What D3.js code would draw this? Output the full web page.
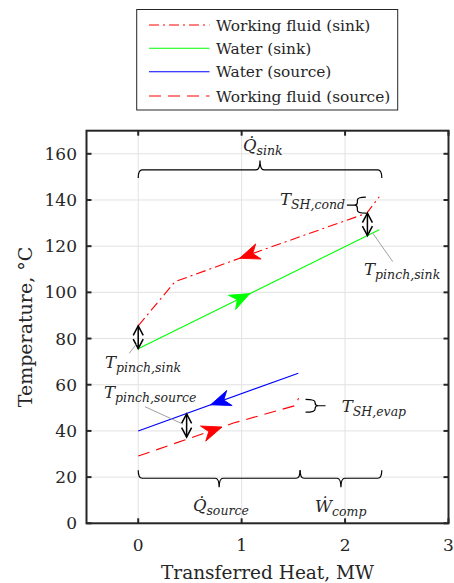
<!DOCTYPE html>
<html><head><meta charset="utf-8">
<script src="https://cdn.jsdelivr.net/npm/d3@7"></script>
<style>body{margin:0;background:#fff} text{font-family:"DejaVu Serif",serif;fill:#262626}</style>
</head><body><svg id="c" width="454" height="583"></svg>
<script>
// ---- data ----
const seriesNames = ["Working fluid (sink)", "Water (sink)", "Water (source)", "Working fluid (source)"];
const wfSinkQ = [0, 0.355, 1.18, 2.21, 2.33];
const wfSinkT = [85.5, 104.6, 118.0, 134.3, 141.4];
const waterSinkQ = [0, 2.33];
const waterSinkT = [75.6, 127.1];
const waterSourceQ = [0, 1.548];
const waterSourceT = [40.0, 65.0];
const wfSourceQ = [0, 0.92, 1.52, 1.55];
const wfSourceT = [29.1, 43.4, 51.0, 54.2];
const xTicks = [0, 1, 2, 3];
const yTicks = [0, 20, 40, 60, 80, 100, 120, 140, 160];
const xDomain = [-0.5, 3];
const yDomain = [0, 170];
const xLabel = "Transferred Heat, MW";
const yLabel = "Temperature, °C";
// flow direction arrows: series index, position along Q, direction
const flowArrowSeries = [0, 1, 2, 3];
const flowArrowQ = [0.98, 1.08, 0.70, 0.81];
const flowArrowDir = [-1, 1, -1, 1];
// pinch double arrows (Q, T from, T to)
const pinchQ = [0, 2.216, 0.468];
const pinchT1 = [85.5, 134.3, 47.4];
const pinchT2 = [75.6, 124.6, 37.3];

const series = [
  {Q: wfSinkQ, T: wfSinkT, color: "#ff0000", dash: "10,4,2,4"},
  {Q: waterSinkQ, T: waterSinkT, color: "#00ff00", dash: null},
  {Q: waterSourceQ, T: waterSourceT, color: "#0000ff", dash: null},
  {Q: wfSourceQ, T: wfSourceT, color: "#ff0000", dash: "12,7"}
];

const svg = d3.select("#c");
const L = 86.5, R = 448.5, Tp = 130.7, B = 523.3;
const x = d3.scaleLinear().domain(xDomain).range([L, R]);
const y = d3.scaleLinear().domain(yDomain).range([B, Tp]);
const axisCol = "#262626";

// grid
const grid = svg.append("g");
xTicks.forEach(v => grid.append("line").attr("x1", x(v)).attr("x2", x(v)).attr("y1", Tp).attr("y2", B)
  .attr("stroke", "#e2e2e2").attr("stroke-width", 1));
yTicks.forEach(v => grid.append("line").attr("x1", L).attr("x2", R).attr("y1", y(v)).attr("y2", y(v))
  .attr("stroke", "#e2e2e2").attr("stroke-width", 1));

// series lines
const line = d3.line().x(d => x(d[0])).y(d => y(d[1]));
series.forEach(s => {
  const pts = s.Q.map((q, i) => [q, s.T[i]]);
  svg.append("path").attr("d", line(pts)).attr("fill", "none").attr("stroke", s.color)
    .attr("stroke-width", 1.1).attr("stroke-dasharray", s.dash);
});

// flow arrows
function locate(s, q) {
  let i = 0;
  while (i < s.Q.length - 2 && q > s.Q[i + 1]) i++;
  const f = (q - s.Q[i]) / (s.Q[i + 1] - s.Q[i]);
  const t = s.T[i] + f * (s.T[i + 1] - s.T[i]);
  const ang = Math.atan2(y(s.T[i + 1]) - y(s.T[i]), x(s.Q[i + 1]) - x(s.Q[i])) * 180 / Math.PI;
  return {px: x(q), py: y(t), ang};
}
flowArrowSeries.forEach((si, k) => {
  const s = series[si];
  const p = locate(s, flowArrowQ[k]);
  const a = flowArrowDir[k] > 0 ? p.ang : p.ang + 180;
  svg.append("path").attr("d", "M0,0 L-20,-8 L-14,0 L-20,8 Z")
    .attr("transform", `translate(${p.px},${p.py}) rotate(${a})`)
    .attr("fill", s.color).attr("stroke", s.color).attr("stroke-width", 0.8);
});

// pinch double arrows
pinchQ.forEach((q, k) => {
  const px = x(q), y1 = y(pinchT1[k]), y2 = y(pinchT2[k]);
  const g = svg.append("g").attr("stroke", "#000").attr("stroke-width", 1.5).attr("fill", "none");
  g.append("line").attr("x1", px).attr("x2", px).attr("y1", y1).attr("y2", y2);
  const h = 9.5, w = 5;
  g.append("path").attr("d", `M${px - w},${y1 + h} L${px},${y1} L${px + w},${y1 + h}`);
  g.append("path").attr("d", `M${px - w},${y2 - h} L${px},${y2} L${px + w},${y2 - h}`);
});

// leader lines (gray)
const leaders = [[-0.087, 73.6, -0.016, 77.6], [2.461, 113.3, 2.268, 125.6], [0.065, 50.5, 0.435, 42.9]];
leaders.forEach(l => svg.append("line").attr("x1", x(l[0])).attr("y1", y(l[1])).attr("x2", x(l[2])).attr("y2", y(l[3]))
  .attr("stroke", "#a0a0a0").attr("stroke-width", 1));

// braces
function braceH(q1, q2, t0, s, tip, cusp) {
  const x1 = x(q1), x2 = x(q2), y0 = y(t0), xm = (x1 + x2) / 2, r = 4;
  const d = `M${x1},${y0 + s * tip} Q${x1},${y0} ${x1 + r},${y0} L${xm - r},${y0} Q${xm},${y0} ${xm},${y0 - s * cusp}` +
    ` M${xm},${y0 - s * cusp} Q${xm},${y0} ${xm + r},${y0} L${x2 - r},${y0} Q${x2},${y0} ${x2},${y0 + s * tip}`;
  svg.append("path").attr("d", d).attr("fill", "none").attr("stroke", "#000").attr("stroke-width", 1.2);
}
function braceV(q0, t1, t2, s, tip, cusp) {
  const x0 = x(q0), y1 = y(t1), y2 = y(t2), ym = (y1 + y2) / 2, r = 3;
  const d = `M${x0 + s * tip},${y1} Q${x0},${y1} ${x0},${y1 + r} L${x0},${ym - r} Q${x0},${ym} ${x0 - s * 3},${ym} L${x0 - s * cusp},${ym}` +
    ` M${x0 - s * 3},${ym} Q${x0},${ym} ${x0},${ym + r} L${x0},${y2 - r} Q${x0},${y2} ${x0 + s * tip},${y2}`;
  svg.append("path").attr("d", d).attr("fill", "none").attr("stroke", "#000").attr("stroke-width", 1.2);
}
braceH(0, 2.355, 153.0, 1, 8, 9.5);
braceH(0, 1.565, 19.5, -1, 8, 9);
braceH(1.565, 2.355, 19.5, -1, 8, 9);
braceV(2.119, 141.2, 134.3, 1, 8.5, 10.5);
braceV(1.71, 53.7, 48.1, -1, 9.5, 10.5);

// math labels
function mathLabel(q, t, main, sub) {
  const tx = svg.append("text").attr("x", x(q)).attr("y", y(t)).attr("font-style", "italic").attr("font-size", 16.5);
  tx.append("tspan").text(main);
  tx.append("tspan").attr("font-size", 12.5).attr("dy", 4).text(sub);
}
mathLabel(1.013, 161.2, "Q\u0307", "sink");
mathLabel(1.371, 137.9, "T", "SH,cond");
mathLabel(2.184, 107.5, "T", "pinch,sink");
mathLabel(-0.322, 67.1, "T", "pinch,sink");
mathLabel(-0.332, 54.1, "T", "pinch,source");
mathLabel(1.968, 48.3, "T", "SH,evap");
mathLabel(0.529, 5.5, "Q\u0307", "source");
mathLabel(1.71, 4.9, "W\u0307", "comp");

// axes box + ticks
const ax = svg.append("g").attr("stroke", axisCol).attr("stroke-width", 2);
ax.append("rect").attr("x", L).attr("y", Tp).attr("width", R - L).attr("height", B - Tp).attr("fill", "none");
const tl = 5;
xTicks.forEach(v => {
  ax.append("line").attr("x1", x(v)).attr("x2", x(v)).attr("y1", B).attr("y2", B - tl);
  ax.append("line").attr("x1", x(v)).attr("x2", x(v)).attr("y1", Tp).attr("y2", Tp + tl);
});
yTicks.forEach(v => {
  ax.append("line").attr("x1", L).attr("x2", L + tl).attr("y1", y(v)).attr("y2", y(v));
  ax.append("line").attr("x1", R).attr("x2", R - tl).attr("y1", y(v)).attr("y2", y(v));
});
// tick labels
xTicks.forEach(v => svg.append("text").attr("x", x(v)).attr("y", 551).attr("text-anchor", "middle")
  .attr("font-size", 17).text(v));
yTicks.forEach(v => svg.append("text").attr("x", 77).attr("y", y(v)).attr("dy", "0.36em").attr("text-anchor", "end")
  .attr("font-size", 17).text(v));
svg.append("text").attr("x", (L + R) / 2).attr("y", 578.5).attr("text-anchor", "middle").attr("font-size", 18.5).text(xLabel);
svg.append("text").attr("transform", `translate(31.7,${(Tp + B) / 2}) rotate(-90)`).attr("text-anchor", "middle")
  .attr("font-size", 19).text(yLabel);

// legend
const lg = svg.append("g");
lg.append("rect").attr("x", 136.7).attr("y", 9.5).attr("width", 261).attr("height", 100.5)
  .attr("fill", "#fff").attr("stroke", axisCol).attr("stroke-width", 1);
const rowY = [25, 48.3, 71.7, 96];
series.forEach((s, i) => {
  lg.append("line").attr("x1", 149).attr("x2", 209.5).attr("y1", rowY[i]).attr("y2", rowY[i])
    .attr("stroke", s.color).attr("stroke-width", 1.1).attr("stroke-dasharray", s.dash);
  lg.append("text").attr("x", 216).attr("y", rowY[i]).attr("dy", "0.36em").attr("font-size", 15.4).attr("fill", "#000")
    .text(seriesNames[i]);
});
</script></body></html>
